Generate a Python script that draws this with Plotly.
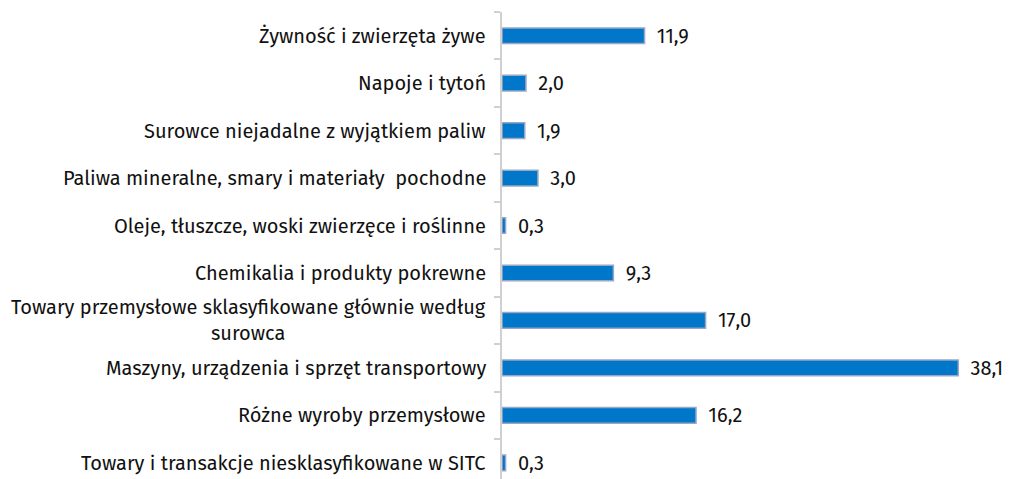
import plotly.graph_objects as go

categories = [
    "Żywność i zwierzęta żywe",
    "Napoje i tytoń",
    "Surowce niejadalne z wyjątkiem paliw",
    "Paliwa mineralne, smary i materiały  pochodne",
    "Oleje, tłuszcze, woski zwierzęce i roślinne",
    "Chemikalia i produkty pokrewne",
    "Towary przemysłowe sklasyfikowane głównie według<br>surowca",
    "Maszyny, urządzenia i sprzęt transportowy",
    "Różne wyroby przemysłowe",
    "Towary i transakcje niesklasyfikowane w SITC",
]
values = [11.9, 2.0, 1.9, 3.0, 0.3, 9.3, 17.0, 38.1, 16.2, 0.3]

FONT = "Fira Sans, Noto Sans, Open Sans, sans-serif"

fig = go.Figure()
fig.add_trace(go.Bar(
    x=values,
    y=categories,
    orientation="h",
    width=0.33,
    marker=dict(color="#0077C8", line=dict(color="#9AA6C8", width=1.5)),
    text=values,
    texttemplate=" \u2009%{x:.1f}",
    textposition="outside",
    constraintext="none",
    textfont=dict(size=20, color="#111111", family=FONT),
    cliponaxis=False,
    hoverinfo="skip",
))

for c in categories:
    fig.add_annotation(
        x=0, xref="paper", y=c, yref="y",
        text=c, showarrow=False, xanchor="right", align="center",
        xshift=-14, font=dict(size=20, color="#111111", family=FONT),
    )

fig.update_layout(
    width=1013, height=479,
    margin=dict(l=494, r=10, t=4, b=0),
    paper_bgcolor="white", plot_bgcolor="white",
    separators=", ",
    showlegend=False,
    font=dict(family=FONT),
    xaxis=dict(range=[0, 42.5], visible=False, fixedrange=True),
    yaxis=dict(
        type="category",
        range=[9.51, -0.5],
        showticklabels=False,
        showline=True, linecolor="#D0D0D0", linewidth=1.5,
        ticks="outside", ticklen=6, tickcolor="#D0D0D0", tickwidth=1.5,
        tickson="boundaries",
        showgrid=False,
    ),
)

fig.write_html("out.html")
